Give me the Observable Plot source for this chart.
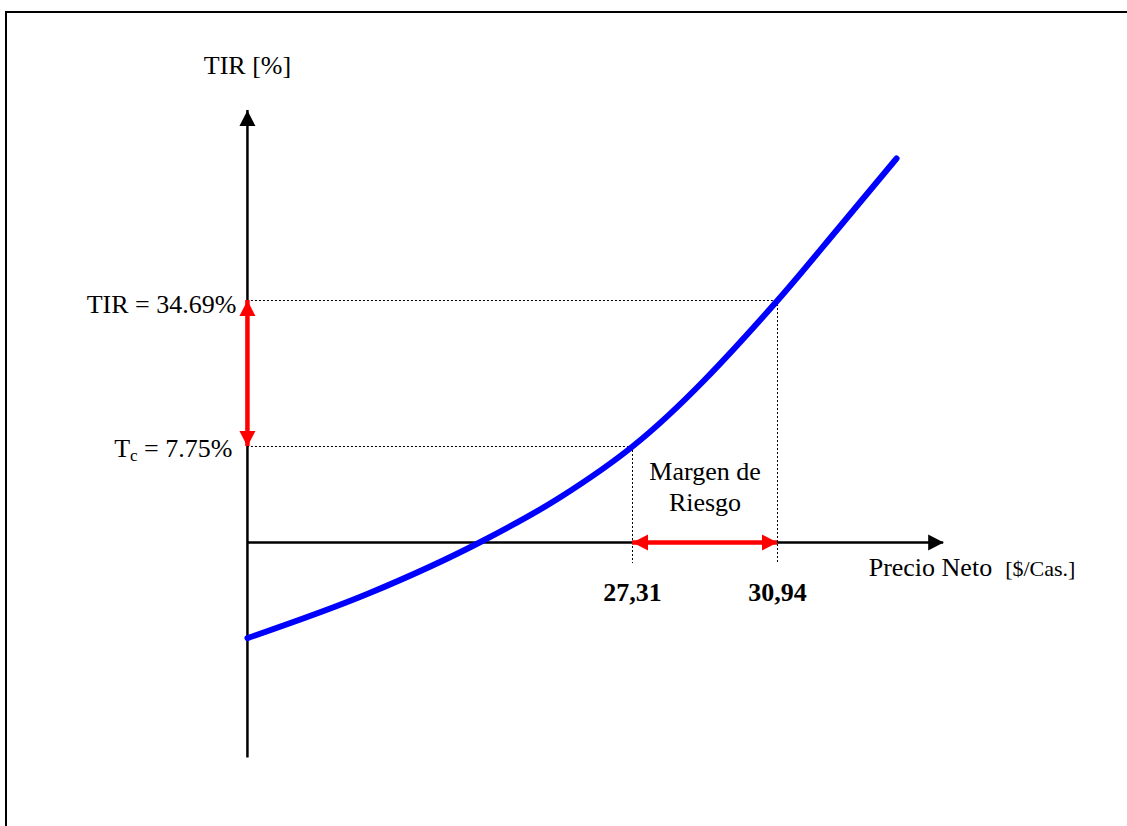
<!DOCTYPE html>
<html>
<head>
<meta charset="utf-8">
<script src="https://cdn.jsdelivr.net/npm/d3@7"></script>
<script src="https://cdn.jsdelivr.net/npm/@observablehq/plot@0.6"></script>
<style>
  html, body { margin: 0; padding: 0; background: #fff; overflow: hidden; }
  #wrap { position: relative; width: 1127px; height: 826px; }
  #border { position: absolute; left: 5px; top: 11px; width: 1300px; height: 1000px;
            border: 2px solid #000; pointer-events: none; }
</style>
</head>
<body>
<div id="wrap"><div id="chart"></div><div id="border"></div></div>
<script>
// ---------- data ----------
// TIR curve vs net price (schematic reading of the picture)
const precio = [17.67, 20.70, 23.48, 25.51, 27.31, 30.94, 32.47, 33.92];
const tir    = [-7.72, -4.12, 0.00, 3.67, 7.75, 34.69, 48.07, 60.9];

// key points: critical rate and project TIR
const puntosPrecio = [27.31, 30.94];
const puntosTir    = [7.75, 34.69];
const etiquetasPrecio = ["27,31", "30,94"];
const etiquetasTir    = ["Tc = 7.75%", "TIR = 34.69%"];

// titles
const tituloY = "TIR [%]";
const tituloX = ["Precio Neto", "[$/Cas.]"];
const textoMargen = "Margen de\nRiesgo";

// schematic axis extents (data units)
const ejeXInicio = 17.67, ejeXFin = 35.10;
const ejeYInicio = -17.4, ejeYFin = 69.74;
const guiaInferior = -1.7;

// ---------- layout ----------
// the drawing is not to scale vertically: piecewise vertical spacing
const altura = d3.scaleLinear().domain([0, puntosTir[0], puntosTir[1]]).range([0, 96, 242]);
const H = d => altura(d);

const curva = precio.map((p, i) => ({precio: p, tir: tir[i]}));
const puntos = puntosPrecio.map((p, i) => ({precio: p, tir: puntosTir[i], lp: etiquetasPrecio[i], lt: etiquetasTir[i]}));

const tri = {
  draw(ctx) { ctx.moveTo(0, 0); ctx.lineTo(8, 15.5); ctx.lineTo(-8, 15.5); ctx.closePath(); }
};
const rot = {up: 0, right: 90, down: 180, left: 270};

const puntasNegras = [
  {x: ejeXInicio, y: ejeYFin, dir: "up"},
  {x: ejeXFin, y: 0, dir: "right"}
];
const puntasRojas = [
  {x: ejeXInicio, y: puntosTir[1], dir: "up"},
  {x: ejeXInicio, y: puntosTir[0], dir: "down"},
  {x: puntosPrecio[0], y: 0, dir: "left"},
  {x: puntosPrecio[1], y: 0, dir: "right"}
];

const font = "'Liberation Serif', 'Times New Roman', serif";
const dotted = {stroke: "black", strokeWidth: 1, strokeDasharray: "2,2"};

const chart = Plot.plot({
  width: 1127,
  height: 826,
  margin: 0,
  style: {fontFamily: font, fontSize: "26px", background: "transparent", color: "black"},
  x: {axis: null, domain: [11.4882, 39.702], range: [0, 1127]},
  y: {axis: null, domain: [-284, 542], range: [826, 0]},
  marks: [
    // dotted guides
    Plot.ruleY(puntos, {y: d => H(d.tir), x1: () => ejeXInicio, x2: "precio", ...dotted}),
    Plot.ruleX(puntos, {x: "precio", y1: d => H(d.tir), y2: () => H(guiaInferior), ...dotted}),
    // axes
    Plot.ruleY([0], {y: () => H(0), x1: () => ejeXInicio, x2: () => ejeXFin, stroke: "black", strokeWidth: 2.5}),
    Plot.ruleX([ejeXInicio], {y1: () => H(ejeYInicio), y2: () => H(ejeYFin), stroke: "black", strokeWidth: 2.5}),
    Plot.dot(puntasNegras, {x: "x", y: d => H(d.y), rotate: d => rot[d.dir], symbol: tri, r: 5, fill: "black", stroke: "none"}),
    // TIR curve
    Plot.line(curva, {x: "precio", y: d => H(d.tir), curve: "monotone-x", stroke: "#0000ff", strokeWidth: 6}),
    // red double arrows
    Plot.ruleX([ejeXInicio], {y1: () => H(puntosTir[0]), y2: () => H(puntosTir[1]), stroke: "#ff0000", strokeWidth: 4.5}),
    Plot.ruleY([0], {y: () => H(0), x1: () => puntosPrecio[0], x2: () => puntosPrecio[1], stroke: "#ff0000", strokeWidth: 4.5}),
    Plot.dot(puntasRojas, {x: "x", y: d => H(d.y), rotate: d => rot[d.dir], symbol: tri, r: 5, fill: "#ff0000", stroke: "none"}),
    // labels
    Plot.text([puntos[1]], {x: () => ejeXInicio, y: d => H(d.tir), text: "lt", textAnchor: "end", lineAnchor: "bottom", dx: -11, dy: 12, fontSize: 26, fill: "black"}),
    Plot.text([puntos[0]], {x: () => ejeXInicio, y: d => H(d.tir), text: "lt", textAnchor: "end", lineAnchor: "bottom", dx: -15, dy: 10, fontSize: 26, fill: "black"}),
    Plot.text(puntos, {x: "precio", y: () => H(0), text: "lp", textAnchor: "middle", lineAnchor: "bottom", dy: 58, fontSize: 26, fontWeight: "bold", fill: "black"}),
    Plot.text([tituloY], {x: () => ejeXInicio, y: () => H(ejeYFin), text: d => d, textAnchor: "middle", lineAnchor: "bottom", dy: -37, fontSize: 26, fill: "black"}),
    Plot.text([tituloX.join("\u00a0\u00a0")], {x: () => ejeXFin, y: () => H(0), text: d => d, textAnchor: "start", lineAnchor: "bottom", dx: -75, dy: 33, fontSize: 26, fill: "black"}),
    Plot.text([textoMargen], {x: () => (puntosPrecio[0] + puntosPrecio[1]) / 2, y: () => H(0), text: d => d, textAnchor: "middle", lineAnchor: "bottom", lineHeight: 1.18, dy: -32, fontSize: 26, fill: "black"})
  ]
});

const ns = "http://www.w3.org/2000/svg";
chart.querySelectorAll("text").forEach(t => {
  // subscript "c" in "Tc"
  if (t.textContent === etiquetasTir[0]) {
    const rest = etiquetasTir[0].slice(2);
    t.textContent = "";
    t.appendChild(document.createTextNode("T"));
    const sub = document.createElementNS(ns, "tspan");
    sub.setAttribute("font-size", "17");
    sub.setAttribute("dy", "4");
    sub.textContent = "c";
    const r = document.createElementNS(ns, "tspan");
    r.setAttribute("dy", "-4");
    r.textContent = rest;
    t.appendChild(sub);
    t.appendChild(r);
  }
  // unit part of the x title in a smaller size
  if (t.textContent === tituloX.join("\u00a0\u00a0")) {
    t.textContent = "";
    t.appendChild(document.createTextNode(tituloX[0] + "\u00a0\u00a0"));
    const u = document.createElementNS(ns, "tspan");
    u.setAttribute("font-size", "22");
    u.textContent = tituloX[1];
    t.appendChild(u);
  }
});

document.getElementById("chart").appendChild(chart);
</script>
</body>
</html>
